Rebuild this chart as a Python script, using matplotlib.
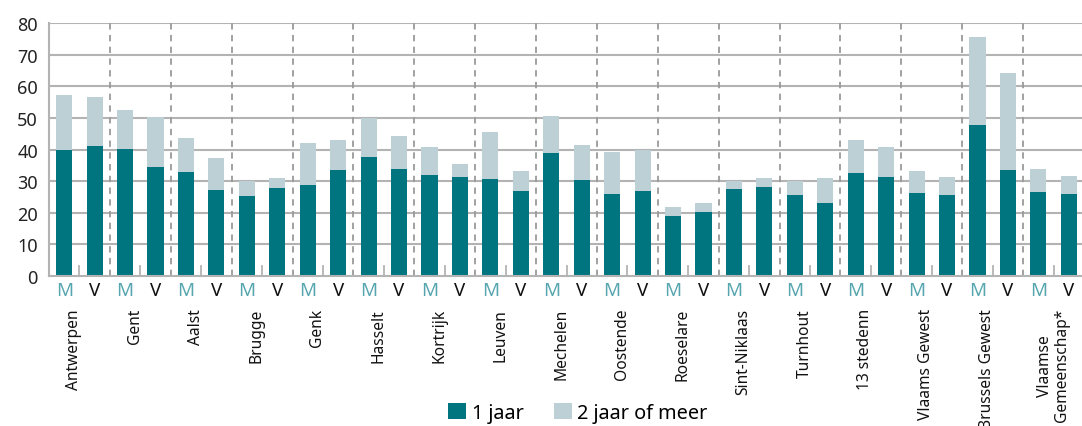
import matplotlib
matplotlib.use("Agg")
import matplotlib.pyplot as plt
import matplotlib.transforms as mtransforms
from matplotlib.patches import Patch
import numpy as np

plt.rcParams['font.family'] = ['Noto Sans', 'DejaVu Sans']

groups = ["Antwerpen", "Gent", "Aalst", "Brugge", "Genk", "Hasselt", "Kortrijk",
          "Leuven", "Mechelen", "Oostende", "Roeselare", "Sint-Niklaas", "Turnhout",
          "13 stedenn", "Vlaams Gewest", "Brussels Gewest", "Vlaamse\nGemeenschap*"]
sexes = ["M", "V"]

# values per bar (M, V per group)
jaar1 = [39.8, 41.1, 40.1, 34.4, 32.8, 27.1, 25.2, 27.8, 28.7, 33.5, 37.6, 33.8,
         31.9, 31.2, 30.6, 26.8, 38.8, 30.3, 25.9, 26.8, 18.9, 20.2, 27.4, 28.1,
         25.5, 23.0, 32.5, 31.2, 26.2, 25.5, 47.7, 33.5, 26.5, 25.9]
totaal = [57.2, 56.6, 52.5, 50.2, 43.6, 37.3, 30.1, 30.9, 42.0, 43.0, 50.0, 44.2,
          40.7, 35.4, 45.5, 33.1, 50.6, 41.4, 39.2, 39.8, 21.7, 23.0, 30.0, 30.9,
          30.0, 30.9, 43.0, 40.7, 33.1, 31.2, 75.6, 64.2, 33.8, 31.6]
jaar2plus = [t - a for t, a in zip(totaal, jaar1)]
yticks = [0, 10, 20, 30, 40, 50, 60, 70, 80]

c_dark = "#007580"
c_light = "#bdd0d6"
c_m = "#55a6ae"
c_grid = "#b3b3b3"

fig = plt.figure(figsize=(10.82, 4.27), dpi=100)
ax = fig.add_axes([49 / 1082, 150 / 427, 1035 / 1082, 253 / 427])

x = np.arange(len(jaar1))
ax.bar(x, jaar1, width=0.53, color=c_dark, zorder=3)
ax.bar(x, jaar2plus, bottom=jaar1, width=0.53, color=c_light, zorder=3)

ax.set_xlim(-0.5, len(jaar1) - 0.5)
ax.set_ylim(0, 80)
ax.set_yticks(yticks)
ax.set_yticklabels([str(v) for v in yticks], fontsize=13, color="#222222")
ax.tick_params(axis='y', length=0, pad=8)
ax.set_xticks([])
for v in yticks[1:]:
    ax.axhline(v, color=c_grid, lw=1.5, zorder=1)

for s in ['top', 'right']:
    ax.spines[s].set_visible(False)
for s in ['left', 'bottom']:
    ax.spines[s].set_color(c_grid)
    ax.spines[s].set_linewidth(1.5)
    ax.spines[s].set_zorder(4)

# group separators (dashed) and M/V small ticks
for g in range(1, len(groups)):
    ax.axvline(2 * g - 0.5, color="#9a9a9a", lw=1.3, ls=(0, (3.5, 3)), zorder=2)
for g in range(len(groups)):
    ax.plot([2 * g + 0.5, 2 * g + 0.5], [0, 3.2], color=c_grid, lw=1.3, zorder=2)

trans = mtransforms.blended_transform_factory(ax.transData, fig.transFigure)
for i in x:
    s = sexes[i % 2]
    ax.text(i, 1 - 291 / 427, s, transform=trans, ha='center', va='center',
            fontsize=13.5, color=c_m if s == "M" else "#111111")
for g, name in enumerate(groups):
    off = -0.18 if "\n" not in name else 0.0
    ax.text(2 * g + 0.5 + off, 1 - 309 / 427, name, transform=trans, rotation=90,
            ha='center', va='top', fontsize=11.2, color="#111111",
            multialignment='center', linespacing=1.15)

handles = [Patch(facecolor=c_dark, edgecolor='none', label="1 jaar"),
           Patch(facecolor=c_light, edgecolor='none', label="2 jaar of meer")]
fig.legend(handles=handles, loc='center', bbox_to_anchor=(578 / 1082, 1 - 414 / 427),
           ncol=2, frameon=False, fontsize=14.3, handlelength=0.9, handleheight=0.9,
           handletextpad=0.3, columnspacing=1.5, borderpad=0)

fig.savefig("out.png", dpi=100)
